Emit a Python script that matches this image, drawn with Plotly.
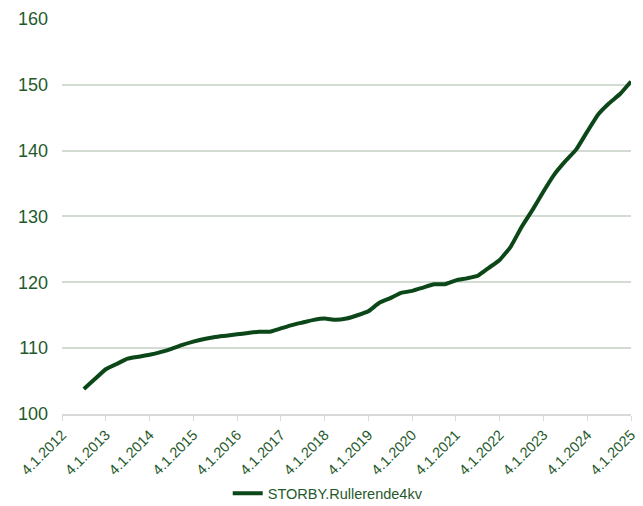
"""Rolling four-quarter index, big cities (STORBY)."""

import plotly.graph_objects as go

GREEN_TEXT = "#1f5a2c"
LINE_COLOR = "#0b4718"
GRID_COLOR = "#d3dcd3"

# quarter index along the category axis (0 = first tick label)
quarters = list(range(2, 53))
values = [
    103.8, 105.3, 106.8, 107.6, 108.4, 108.7, 109.0, 109.4, 109.9, 110.5,
    111.0, 111.4, 111.7, 111.9, 112.1, 112.3, 112.5, 112.5, 113.0, 113.5,
    113.9, 114.3, 114.5, 114.3, 114.5, 115.0, 115.6, 116.9, 117.6, 118.4,
    118.7, 119.2, 119.7, 119.7, 120.3, 120.6, 121.0, 122.2, 123.4, 125.4,
    128.4, 131.0, 133.8, 136.4, 138.4, 140.2, 142.9, 145.5, 147.2, 148.6,
    150.5,
]

tick_positions = list(range(0, 53, 4))
tick_labels = [f"4.1.{year}" for year in range(2012, 2026)]

fig = go.Figure(
    go.Scatter(
        x=quarters,
        y=values,
        mode="lines",
        name="STORBY.Rullerende4kv",
        line=dict(color=LINE_COLOR, width=4, shape="spline", smoothing=0.4),
    )
)

# the page body adds an 8px offset, so the figure is drawn 8px smaller
fig.update_layout(
    width=635,
    height=498,
    paper_bgcolor="white",
    plot_bgcolor="white",
    margin=dict(l=54, r=12, t=10, b=92, autoexpand=False),
    font=dict(family="Liberation Sans, Arial, sans-serif", color=GREEN_TEXT),
    showlegend=True,
    legend=dict(
        orientation="h",
        x=0.467,
        xanchor="center",
        y=-0.2,
        yanchor="middle",
        font=dict(size=14.5, color=GREEN_TEXT),
        itemwidth=30,
    ),
)

fig.update_xaxes(
    range=[0, 52],
    tickmode="array",
    tickvals=tick_positions,
    ticktext=tick_labels,
    tickangle=-45,
    tickfont=dict(size=14.5, color=GREEN_TEXT),
    showgrid=False,
    showline=True,
    linecolor="#d9d9d9",
    linewidth=1.5,
    ticks="outside",
    ticklen=5,
    tickcolor="#d9d9d9",
    zeroline=False,
    automargin=False,
    ticklabeloverflow="allow",
)

fig.update_yaxes(
    range=[100, 160.15],
    tickmode="array",
    tickvals=[100, 110, 120, 130, 140, 150, 160],
    tickfont=dict(size=18, color=GREEN_TEXT),
    gridcolor=GRID_COLOR,
    gridwidth=1.5,
    zeroline=False,
    ticks="",
    ticklabelstandoff=13,
    automargin=False,
    ticklabeloverflow="allow",
)

fig.write_html("out.html")
